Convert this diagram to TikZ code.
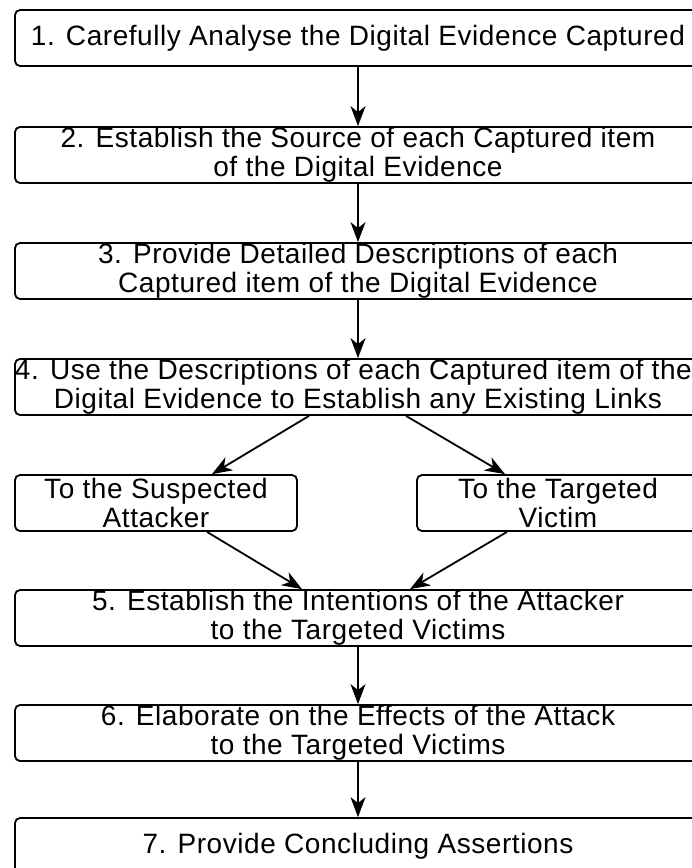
\documentclass[tikz,border=0pt]{standalone}
\usepackage{fontspec}
\setmainfont{Liberation Sans}[LetterSpace=2]
\usetikzlibrary{arrows.meta}
\begin{document}
\begin{tikzpicture}[x=1pt,y=-1pt]
\tikzset{
  stagebox/.style={draw, line width=1.8pt, rounded corners=5pt, inner sep=0pt,
    minimum width=686pt, minimum height=56pt, align=center,
    font=\fontsize{28}{28.5}\selectfont},
  sidebox/.style={stagebox, minimum width=282pt},
  flow/.style={line width=1.8pt, -{Stealth[length=20pt,width=15pt,inset=6pt]}}
}
\useasboundingbox (0,0) rectangle (692,868);
\node [stagebox] (s1) at (358,38) {1. Carefully Analyse the Digital Evidence Captured};
\node [stagebox] (s2) at (358,155) {2. Establish the Source of each Captured item\\of the Digital Evidence};
\node [stagebox] (s3) at (358,271) {3. Provide Detailed Descriptions of each\\Captured item of the Digital Evidence};
\node [stagebox] (s4) at (358,387) {\makebox[686pt][l]{4. Use the Descriptions of each Captured item of the}\\Digital Evidence to Establish any Existing Links};
\node [sidebox] (attacker) at (156,503) {To the Suspected\\Attacker};
\node [sidebox] (victim) at (558,503) {To the Targeted\\Victim};
\node [stagebox] (s5) at (358,618) {5. Establish the Intentions of the Attacker\\to the Targeted Victims};
\node [stagebox] (s6) at (358,733) {6. Elaborate on the Effects of the Attack\\to the Targeted Victims};
\node [stagebox] (s7) at (358,846) {7. Provide Concluding Assertions};
\draw [flow] (s1) -- (s2);
\draw [flow] (s2) -- (s3);
\draw [flow] (s3) -- (s4);
\draw [flow] ([xshift=-49pt]s4.south) -- ([xshift=56pt]attacker.north);
\draw [flow] ([xshift=48pt]s4.south) -- ([xshift=-53pt]victim.north);
\draw [flow] ([xshift=51pt]attacker.south) -- ([xshift=-56pt]s5.north);
\draw [flow] ([xshift=-51pt]victim.south) -- ([xshift=52pt]s5.north);
\draw [flow] (s5) -- (s6);
\draw [flow] (s6) -- (s7);
\end{tikzpicture}
\end{document}
